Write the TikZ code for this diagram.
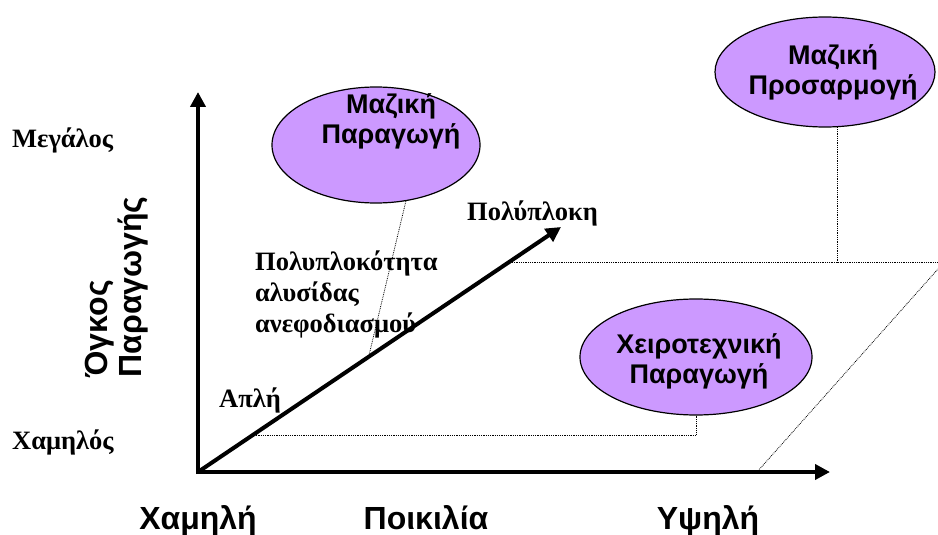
\documentclass[tikz,border=0pt]{standalone}
\usepackage{fontspec}
\setmainfont{Liberation Serif}
\newfontfamily\sansgr{Liberation Sans}
\usetikzlibrary{arrows.meta,calc,shapes.geometric}

\definecolor{blobfill}{HTML}{CC99FF}
\tikzset{
  axis/.style={line width=4pt, -{Triangle[length=15pt,width=15pt]}},
  guide/.style={densely dotted, line width=0.8pt},
  blob/.style={ellipse, draw=black, line width=1.2pt, fill=blobfill, inner sep=0pt},
  blobtext/.style={font=\sansgr\bfseries\fontsize{27}{30}\selectfont, align=center},
  serlabel/.style={font=\bfseries\fontsize{26.5}{31}\selectfont, inner sep=0pt},
  axlabel/.style={font=\sansgr\bfseries\fontsize{32}{34}\selectfont, inner sep=0pt},
}

\begin{document}
\begin{tikzpicture}[x=1pt, y=-1pt]
\useasboundingbox (0,0) rectangle (938,535);

% axes and the supply chain complexity arrow
\coordinate (o) at (198,472);
\coordinate (ytop) at (198,92);
\coordinate (xend) at (830,472);
\coordinate (dtip) at (561,227);

% ellipses
\node[blob, minimum width=208pt, minimum height=116pt] (mp) at (376,145) {};
\node[blob, minimum width=220pt, minimum height=110pt] (mc) at (825,72) {};
\node[blob, minimum width=232pt, minimum height=116pt] (hc) at (696,357) {};

\node[blobtext] (mpt) at (391,121) {Μαζική\\Παραγωγή};
\node[blobtext] (mct) at (833,72) {Μαζική\\Προσαρμογή};
\node[blobtext] (hct) at (699,361) {Χειροτεχνική\\Παραγωγή};

% points on the complexity arrow
\coordinate (dlow) at ($(o)!0.15!(dtip)$);
\coordinate (dmid) at ($(o)!0.47!(dtip)$);
\coordinate (dhigh) at ($(o)!0.855!(dtip)$);
\coordinate (edge1) at (938,260);
\coordinate (xfoot) at (757,472);
\coordinate (edge2) at (938,269);

% dotted guide lines
\draw[guide] (mp.-62) -- (dmid);
\draw[guide] (hc.south) -- (hc.south |- dlow) -- (dlow);
\draw[guide] (dhigh) -- (dhigh -| edge1) -- (edge1);
\draw[guide] (mc.-77) -- (mc.-77 |- dhigh);
\draw[guide] (xfoot) -- (edge2);

% axes drawn above guides
\draw[axis] ($(o)+(0,2)$) -- (ytop);
\draw[axis] ($(o)+(-2,0)$) -- (xend);
\draw[axis] (o) -- (dtip);

% labels
\node[serlabel, anchor=base west] (big) at (12,147) {Μεγάλος};
\node[serlabel, anchor=base west] (small) at (12,449) {Χαμηλός};
\node[font=\sansgr\bfseries\fontsize{32}{34}\selectfont, align=left, rotate=90] (vol) at (117,287) {Όγκος\\Παραγωγής};
\node[axlabel, anchor=base] (xlow) at (198,529) {Χαμηλή};
\node[axlabel, anchor=base] (xmid) at (426,529) {Ποικιλία};
\node[axlabel, anchor=base] (xhigh) at (708,529) {Υψηλή};
\node[serlabel, anchor=base west] (cplx) at (467,220) {Πολύπλοκη};
\node[serlabel, anchor=base west] (simple) at (219,407) {Απλή};
\node[font=\bfseries\fontsize{26.5}{31}\selectfont, align=left, anchor=base west, inner sep=0pt] (sc) at (255,332) {Πολυπλοκότητα\\αλυσίδας\\ανεφοδιασμού};
\end{tikzpicture}
\end{document}
